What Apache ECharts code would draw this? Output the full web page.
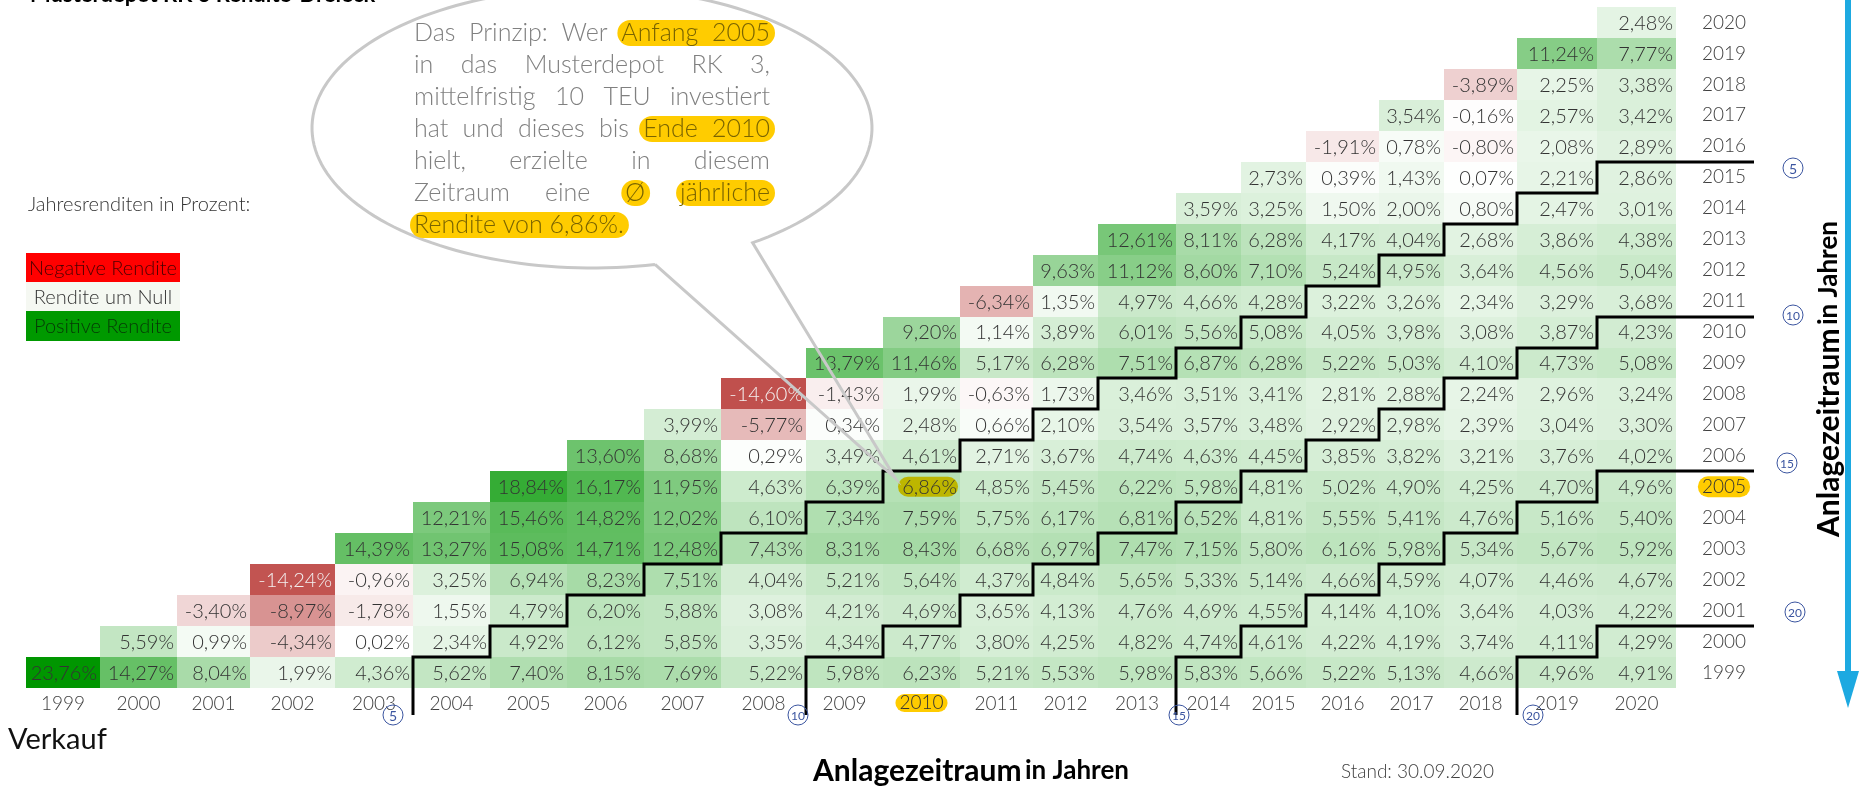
<!DOCTYPE html>
<html><head><meta charset="utf-8">
<script src="https://cdn.jsdelivr.net/npm/echarts@6/dist/echarts.min.js"></script>
<style>html,body{margin:0;padding:0;background:#fff}#c{width:1864px;height:786px}</style>
</head><body><div id="c"></div>
<script>
// ---------------- DATA ----------------
const YEARS = [1999,2000,2001,2002,2003,2004,2005,2006,2007,2008,2009,2010,2011,2012,2013,2014,2015,2016,2017,2018,2019,2020];
// average annual return (%) for an investment started at the beginning of the row year,
// sold at the end of each year from the start year up to 2020
const RET_1999 = [23.76,14.27,8.04,1.99,4.36,5.62,7.40,8.15,7.69,5.22,5.98,6.23,5.21,5.53,5.98,5.83,5.66,5.22,5.13,4.66,4.96,4.91];
const RET_2000 = [5.59,0.99,-4.34,0.02,2.34,4.92,6.12,5.85,3.35,4.34,4.77,3.80,4.25,4.82,4.74,4.61,4.22,4.19,3.74,4.11,4.29];
const RET_2001 = [-3.40,-8.97,-1.78,1.55,4.79,6.20,5.88,3.08,4.21,4.69,3.65,4.13,4.76,4.69,4.55,4.14,4.10,3.64,4.03,4.22];
const RET_2002 = [-14.24,-0.96,3.25,6.94,8.23,7.51,4.04,5.21,5.64,4.37,4.84,5.65,5.33,5.14,4.66,4.59,4.07,4.46,4.67];
const RET_2003 = [14.39,13.27,15.08,14.71,12.48,7.43,8.31,8.43,6.68,6.97,7.47,7.15,5.80,6.16,5.98,5.34,5.67,5.92];
const RET_2004 = [12.21,15.46,14.82,12.02,6.10,7.34,7.59,5.75,6.17,6.81,6.52,4.81,5.55,5.41,4.76,5.16,5.40];
const RET_2005 = [18.84,16.17,11.95,4.63,6.39,6.86,4.85,5.45,6.22,5.98,4.81,5.02,4.90,4.25,4.70,4.96];
const RET_2006 = [13.60,8.68,0.29,3.49,4.61,2.71,3.67,4.74,4.63,4.45,3.85,3.82,3.21,3.76,4.02];
const RET_2007 = [3.99,-5.77,0.34,2.48,0.66,2.10,3.54,3.57,3.48,2.92,2.98,2.39,3.04,3.30];
const RET_2008 = [-14.60,-1.43,1.99,-0.63,1.73,3.46,3.51,3.41,2.81,2.88,2.24,2.96,3.24];
const RET_2009 = [13.79,11.46,5.17,6.28,7.51,6.87,6.28,5.22,5.03,4.10,4.73,5.08];
const RET_2010 = [9.20,1.14,3.89,6.01,5.56,5.08,4.05,3.98,3.08,3.87,4.23];
const RET_2011 = [-6.34,1.35,4.97,4.66,4.28,3.22,3.26,2.34,3.29,3.68];
const RET_2012 = [9.63,11.12,8.60,7.10,5.24,4.95,3.64,4.56,5.04];
const RET_2013 = [12.61,8.11,6.28,4.17,4.04,2.68,3.86,4.38];
const RET_2014 = [3.59,3.25,1.50,2.00,0.80,2.47,3.01];
const RET_2015 = [2.73,0.39,1.43,0.07,2.21,2.86];
const RET_2016 = [-1.91,0.78,-0.80,2.08,2.89];
const RET_2017 = [3.54,-0.16,2.57,3.42];
const RET_2018 = [-3.89,2.25,3.38];
const RET_2019 = [11.24,7.77];
const RET_2020 = [2.48];
const RETURN_ROWS = [RET_1999,RET_2000,RET_2001,RET_2002,RET_2003,RET_2004,RET_2005,RET_2006,RET_2007,RET_2008,RET_2009,RET_2010,RET_2011,RET_2012,RET_2013,RET_2014,RET_2015,RET_2016,RET_2017,RET_2018,RET_2019,RET_2020];
const HOLDING_PERIODS = [5,10,15,20];
const EXAMPLE = {start:2005, end:2010};
const BUBBLE_LINES = [
  [['Das',0],['Prinzip:',0],['Wer',0],['Anfang',1],['2005',1]],
  [['in',0],['das',0],['Musterdepot',0],['RK',0],['3,',0]],
  [['mittelfristig',0],['10',0],['TEU',0],['investiert',0]],
  [['hat',0],['und',0],['dieses',0],['bis',0],['Ende',2],['2010',2]],
  [['hielt,',0],['erzielte',0],['in',0],['diesem',0]],
  [['Zeitraum',0],['eine',0],['Ø',3],['jährliche',4]],
  [['Rendite',5],['von',5],['6,86%.',5]]
];
const LEGEND_ITEMS = ['Negative Rendite','Rendite um Null','Positive Rendite'];

// ---------------- LAYOUT (relative column widths of the sheet) ----------------
const COL_WIDTHS = [74,77,73,85,78,77,77,77,77,85,77,77,73,65,78,65,65,73,65,73,80,79];
const COL_START = []; {let s=0; COL_WIDTHS.forEach(w=>{COL_START.push(s); s+=w;});}
const X_MAX = COL_WIDTHS.reduce((a,b)=>a+b,0);
const COL_CENTER = COL_START.map((s,i)=>s+COL_WIDTHS[i]/2);
const MARKERS = {5:{bdx:-20,rdx:117,rdy:6},10:{bdx:-8,rdx:117,rdy:-2},15:{bdx:3,rdx:111,rdy:-8},20:{bdx:16,rdx:119,rdy:-14}};

// ---------------- helpers ----------------
const NEG_MIN = Math.min(...RETURN_ROWS.flat());
const POS_MAX = Math.max(...RETURN_ROWS.flat());
function mix(a,b,t){return Math.round(a+(b-a)*t);}
function cellColor(v){
  if(v>=0){const t=Math.min(1,v/POS_MAX);return 'rgb('+mix(255,0,t)+','+mix(255,150,t)+','+mix(255,0,t)+')';}
  const t=Math.min(1,v/NEG_MIN);return 'rgb('+mix(255,192,t)+','+mix(255,80,t)+','+mix(255,77,t)+')';
}
function fmt(v){return v.toFixed(2).replace('.',',')+'%';}
const TXT = '#404040';
const CELL_FONT = {fontFamily:'Lato',fontWeight:300,fontSize:20};

const cellData = [];
RETURN_ROWS.forEach((row,ri)=>{row.forEach((v,k)=>{cellData.push([ri+k, ri, v]);});});

const chart = echarts.init(document.getElementById('c'), null, {renderer:'canvas'});
const i2010 = YEARS.indexOf(EXAMPLE.end), i2005 = YEARS.indexOf(EXAMPLE.start);

chart.setOption({
  animation:false,
  backgroundColor:'#fff',
  grid:{left:26, top:7, width:1650, height:681, containLabel:false, outerBoundsMode:'none'},
  xAxis:{type:'value', min:0, max:X_MAX, splitLine:{show:false}, axisLine:{show:false}, axisTick:{show:false},
    axisLabel:{customValues:COL_CENTER, margin:6, color:TXT, fontFamily:'Lato', fontWeight:300, fontSize:19, hideOverlap:false,
      formatter:(val)=>{const i=COL_CENTER.findIndex(c=>Math.abs(c-val)<0.6); if(i<0) return ''; return i===i2010?'{hl|'+YEARS[i]+'}':String(YEARS[i]);},
      rich:{hl:{backgroundColor:'#FFCC00',borderRadius:9,padding:[0,4,0,4],height:18,lineHeight:18,color:'#333',fontFamily:'Lato',fontWeight:300,fontSize:19}}}},
  yAxis:{type:'category', data:YEARS.map(String), position:'right', axisLine:{show:false}, axisTick:{show:false}, splitLine:{show:false},
    axisLabel:{margin:48, align:'center', color:TXT, fontFamily:'Lato', fontWeight:300, fontSize:19,
      formatter:(v)=> v===String(EXAMPLE.start)?'{hl|'+v+'}':v,
      rich:{hl:{backgroundColor:'#FFCC00',borderRadius:10,padding:[1,4,1,4],height:19,lineHeight:19,color:'#333',fontFamily:'Lato',fontWeight:300,fontSize:19}}}},
  series:[
    {type:'custom', name:'cells', coordinateSystem:'cartesian2d', silent:true, clip:false, z:2, encode:{x:0,y:1},
      data:cellData,
      renderItem:(params,api)=>{
        const ci=api.value(0), ri=api.value(1), v=api.value(2);
        const h=api.size([0,1])[1];
        const pa=api.coord([COL_START[ci], ri]), pb=api.coord([COL_START[ci]+COL_WIDTHS[ci], ri]);
        const x0=Math.round(pa[0]), x1=Math.round(pb[0]);
        const y0=Math.round(pa[1]-h/2), y1=Math.round(pa[1]+h/2);
        const children=[{type:'rect', shape:{x:x0,y:y0,width:x1-x0,height:y1-y0}, style:{fill:cellColor(v), lineWidth:0}}];
        if(YEARS[ri]===EXAMPLE.start && YEARS[ci]===EXAMPLE.end){
          children.push({type:'rect', shape:{x:x0+15,y:pa[1]-10,width:x1-x0-17,height:20,r:10}, style:{fill:'#BDB600'}});
        }
        children.push({type:'text', style:{text:fmt(v), x:x1-3, y:pa[1]+1, align:'right', verticalAlign:'middle',
          fill: v< -10 ? '#f4f0f0' : '#333', fontFamily:CELL_FONT.fontFamily, fontWeight:CELL_FONT.fontWeight, fontSize:CELL_FONT.fontSize}});
        return {type:'group', children};
      }},
    {type:'custom', name:'stairs', coordinateSystem:'cartesian2d', silent:true, clip:false, z:5, encode:{x:0,y:1},
      data:HOLDING_PERIODS.map(n=>[0,0,n]),
      renderItem:(params,api)=>{
        const N=api.value(2), h=api.size([0,1])[1];
        const px=(xv)=>Math.round(api.coord([xv,0])[0]);
        const rowTop=(ri)=>Math.round(api.coord([0,ri])[1]-h/2);
        const rowBot=(ri)=>Math.round(api.coord([0,ri])[1]+h/2);
        const colEnd=(ci)=>COL_START[ci]+COL_WIDTHS[ci];
        const right=px(X_MAX), last=YEARS.length-1-N;
        const pts=[[px(colEnd(N-1)), rowBot(0)+27]];
        for(let ri=0; ri<=last; ri++){
          pts.push([px(colEnd(ri+N-1)), rowTop(ri)]);
          pts.push([ri<last ? px(colEnd(ri+N)) : right+78, rowTop(ri)]);
        }
        const m=MARKERS[N];
        const bx=px(colEnd(N-1))+m.bdx, by=rowBot(0)+27;
        const rx=right+m.rdx, ry=rowTop(last)+m.rdy;
        const mk=(cx,cy)=>[
          {type:'circle', shape:{cx,cy,r:10}, style:{fill:null, stroke:'#3B55A0', lineWidth:1}},
          {type:'text', style:{text:String(N), x:cx, y:cy+1, align:'center', verticalAlign:'middle', fill:'#3B55A0', fontFamily:'Lato', fontSize:N<10?14:12}}
        ];
        return {type:'group', children:[
          {type:'polyline', shape:{points:pts}, style:{stroke:'#000', lineWidth:3, fill:null, lineJoin:'miter', lineCap:'butt'}},
          ...mk(bx,by), ...mk(rx,ry)
        ]};
      }}
  ]
});

// ---------------- annotations ----------------
const mctx=document.createElement('canvas').getContext('2d');
function tw(t,font){mctx.font=font;return mctx.measureText(t).width;}
const els=[];
// title (cut off at the top like the reference)
els.push({type:'text', x:30, y:6, style:{text:'Musterdepot RK 3 Rendite-Dreieck', font:'bold 22px Lato', fill:'#000', verticalAlign:'bottom'}});
els.push({type:'text', x:28, y:205, style:{text:'Jahresrenditen in Prozent:', font:'300 20px Lato', fill:'#333', verticalAlign:'middle'}});
const legFill=['#FF0000','#F5F8F2','#009900'], legTxt=['#4a0000','#333','#063806'], legY=[253,282,311], legH=[29,29,30];
LEGEND_ITEMS.forEach((t,i)=>{
  els.push({type:'rect', shape:{x:26,y:legY[i],width:154,height:legH[i]}, style:{fill:legFill[i]}});
  els.push({type:'text', x:103, y:legY[i]+legH[i]/2+1, style:{text:t, font:'300 20px Lato', fill:legTxt[i], align:'center', verticalAlign:'middle'}});
});
// speech bubble
const ecx=592, ecy=128, erx=280, ery=140;
const tip=chart.convertToPixel({gridIndex:0},[COL_START[i2010]+12, i2005]);
const bubblePts=[];
for(let a=77; a<=415; a+=2){const r=a*Math.PI/180; bubblePts.push([ecx+erx*Math.cos(r), ecy+ery*Math.sin(r)]);}
bubblePts.push([tip[0], tip[1]-9]);
bubblePts.push(bubblePts[0].slice());
els.push({type:'polyline', shape:{points:bubblePts}, style:{stroke:'#C8C8C8', lineWidth:3, fill:null}, z:20});
const BF='300 25px Lato', bx0=414, bx1=770, by0=33, bdy=32;
BUBBLE_LINES.forEach((line,li)=>{
  const w=line.map(x=>tw(x[0],BF)), tot=w.reduce((a,b)=>a+b,0);
  const lastLine=li===BUBBLE_LINES.length-1;
  const gap=lastLine?tw(' ',BF):(bx1-bx0-tot)/(line.length-1);
  const y=by0+li*bdy; let x=bx0; const pos=[];
  line.forEach((it,i)=>{pos.push([x,x+w[i]]); x+=w[i]+gap;});
  let i=0;
  while(i<line.length){const g=line[i][1]; if(!g){i++;continue;} let j=i; while(j+1<line.length&&line[j+1][1]===g) j++;
    els.push({type:'rect', shape:{x:pos[i][0]-4,y:y-13,width:pos[j][1]-pos[i][0]+9,height:26,r:13}, style:{fill:'#FFCC00'}, z:21});
    i=j+1;}
  line.forEach((it,k)=>els.push({type:'text', x:pos[k][0], y:y, style:{text:it[0], font:BF, fill:it[1]?'#7A6400':'#808080', verticalAlign:'middle'}, z:22}));
});
// texts around
els.push({type:'text', x:8, y:740, style:{text:'Verkauf', font:'29px Lato', fill:'#111', verticalAlign:'middle'}});
els.push({type:'text', x:1341, y:772, style:{text:'Stand: 30.09.2020', font:'300 19px Lato', fill:TXT, verticalAlign:'middle'}});
const titleRich={a:{fontFamily:'Lato',fontWeight:'bold',fontSize:30,color:'#000'},b:{fontFamily:'Lato',fontWeight:'bold',fontSize:26,color:'#000'}};
els.push({type:'text', x:971, y:771, style:{text:'{a|Anlagezeitraum} {b|in Jahren}', rich:titleRich, align:'center', verticalAlign:'middle'}});
els.push({type:'text', x:1829, y:379, rotation:Math.PI/2, style:{text:'{a|Anlagezeitraum} {b|in Jahren}', rich:titleRich, align:'center', verticalAlign:'middle'}});
// blue arrow
els.push({type:'line', shape:{x1:1848,y1:0,x2:1848,y2:674}, style:{stroke:'#1DA9E1', lineWidth:6}});
els.push({type:'polygon', shape:{points:[[1837,671],[1859,671],[1848,708]]}, style:{fill:'#1DA9E1'}});
chart.setOption({graphic:{elements:els}});
</script></body></html>
